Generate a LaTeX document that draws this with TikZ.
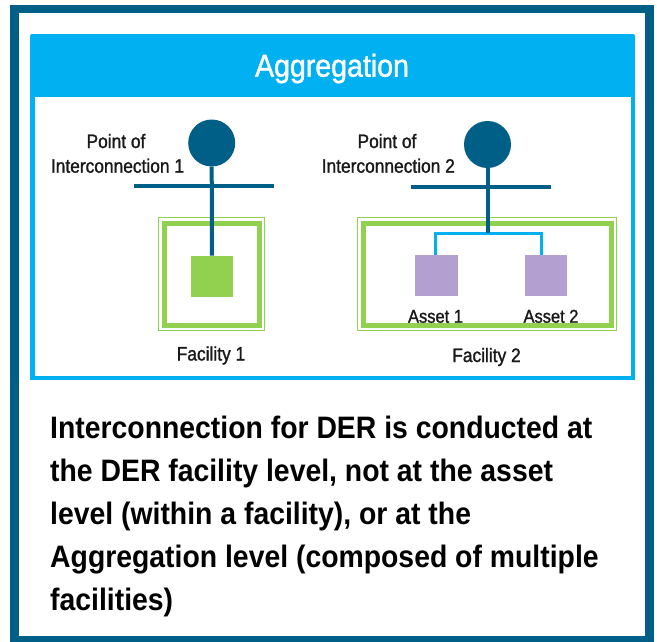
\documentclass[tikz,border=0pt]{standalone}
\usepackage{fontspec}
\setmainfont{Liberation Sans}
\newfontfamily\condfont[FakeStretch=0.89,FakeBold=1.3]{Liberation Sans}
\newfontfamily\headfont[FakeStretch=0.90,FakeBold=1.3]{Liberation Sans}
\newfontfamily\bodyfont[FakeStretch=0.915]{Liberation Sans}
\definecolor{darkblue}{HTML}{005F86}
\definecolor{cyanblue}{HTML}{00B0F0}
\definecolor{leaf}{HTML}{92D050}
\definecolor{lilac}{HTML}{B49FD1}
\begin{document}
\begin{tikzpicture}[x=1pt,y=-1pt,
  lbl/.style={font={\condfont\fontsize{19.5}{24}\selectfont}, text=black!90, anchor=base, inner sep=0pt},
  assetlbl/.style={lbl, font={\condfont\fontsize{18.5}{22}\selectfont}},
  body/.style={font={\bodyfont\bfseries\fontsize{31}{43}\selectfont}, text=black, anchor=base west, inner sep=0pt},
  poi/.style={circle, fill=darkblue, minimum size=47pt, inner sep=0pt},
  wire/.style={draw=darkblue, line width=4pt},
  feed/.style={draw=cyanblue, line width=3.5pt},
  sq/.style={rectangle, minimum width=42.6pt, minimum height=41pt, inner sep=0pt},
  facthin/.style={draw=leaf, line width=1pt},
  facthick/.style={draw=leaf, line width=5pt},
]
\useasboundingbox (0,0) rectangle (657,641);
\fill[white] (0,0) rectangle (657,641);
% outer frame
\draw[darkblue, line width=8.5pt] (14.5,9) rectangle (649.5,640);
% header
\fill[cyanblue, rounded corners=2pt] (30,34) rectangle (635,97);
\node[anchor=base, text=white, inner sep=0pt, font={\headfont\fontsize{31.7}{36}\selectfont}] (title) at (332,76.7) {Aggregation};
% panel
\fill[white] (32.25,94.25) rectangle (632.75,377.75);
\draw[cyanblue, line width=4.5pt] (32.25,94.25) rectangle (632.75,377.75);

% facility boxes
\draw[facthin] (158.5,217.5) rectangle (264.5,330.5);
\draw[facthick] (164,223) rectangle (259,325);
\draw[facthin] (357.5,217.5) rectangle (616.5,330.5);
\draw[facthick] (363,223) rectangle (611,325);

% points of interconnection
\node[poi] (c1) at (211.7,143) {};
\node[poi] (c2) at (487.5,144.5) {};

% bus bars
\coordinate (b1l) at (134,186);
\coordinate (b1r) at (274,186);
\coordinate (b2l) at (410.7,186.7);
\coordinate (b2r) at (550.7,186.7);
\draw[wire] (b1l) -- (b1r);
\draw[wire] (b2l) -- (b2r);

% facility contents
\node[sq, fill=leaf] (g1) at (212,276.2) {};
\node[sq, fill=lilac] (a1) at (436.3,275.9) {};
\node[sq, fill=lilac] (a2) at (546.1,275.3) {};

\coordinate (j2) at (487.5,233.3);
\draw[feed] ([xshift=-0.6pt]a1.north) |- (j2) -| ([xshift=-4.4pt]a2.north);
\draw[wire] (c1.south) -- (g1.north);
\draw[wire] (c2.south) -- (j2);

% labels
\node[lbl] (p1a) at (116,148) {Point of};
\node[lbl] (p1b) at (117.5,172.7) {Interconnection 1};
\node[lbl] (p2a) at (387,148) {Point of};
\node[lbl] (p2b) at (388.3,172.7) {Interconnection 2};
\node[lbl] (f1) at (211,360.5) {Facility 1};
\node[lbl] (f2) at (486.5,362) {Facility 2};
\node[assetlbl] (al1) at (435.5,322.7) {Asset 1};
\node[assetlbl] (al2) at (551,322.7) {Asset 2};

% body text
\node[body] (t1) at (50,438) {Interconnection for DER is conducted at};
\node[body] (t2) at (50,481) {the DER facility level, not at the asset};
\node[body] (t3) at (50,524) {level (within a facility), or at the};
\node[body] (t4) at (50,567) {Aggregation level (composed of multiple};
\node[body] (t5) at (50,610) {facilities)};
\end{tikzpicture}
\end{document}
